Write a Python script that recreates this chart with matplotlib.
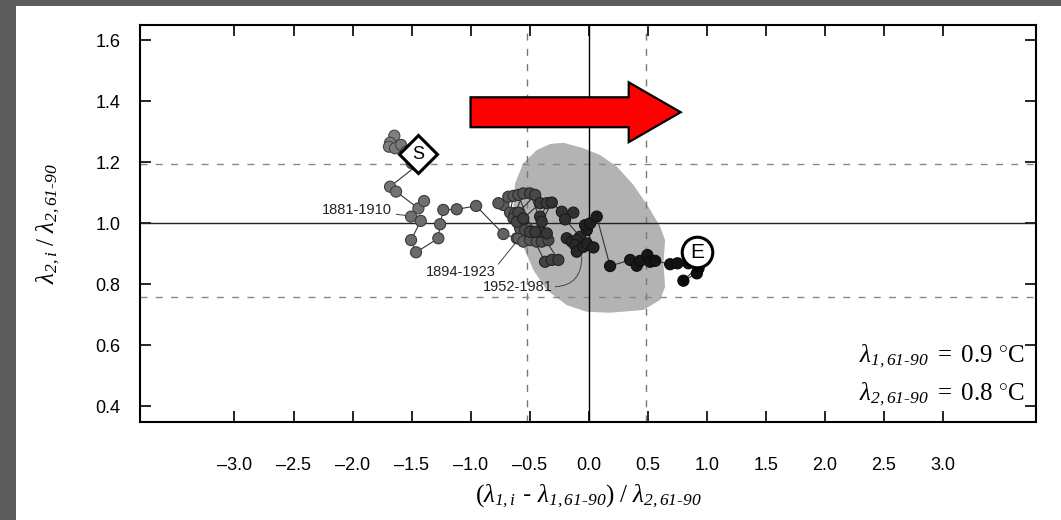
import numpy as np
import matplotlib.pyplot as plt
from matplotlib.patches import Polygon, Rectangle

plt.rcParams['font.family'] = ['Liberation Sans', 'DejaVu Sans']
plt.rcParams['mathtext.fontset'] = 'custom'
plt.rcParams['mathtext.rm'] = 'Liberation Serif'
plt.rcParams['mathtext.it'] = 'Liberation Serif:italic'
plt.rcParams['mathtext.bf'] = 'Liberation Serif:bold'
# italic digits for the subscripts
plt.rcParams['mathtext.sf'] = 'Liberation Serif:italic'

# trajectory of the two ratios, start (S) to end (E)
traj_x = [-1.646, -1.682, -1.691, -1.640, -1.589, -1.547, -1.498, -1.456,
          -1.682, -1.631, -1.442, -1.394, -1.504, -1.422, -1.504, -1.462,
          -1.273, -1.258, -1.231, -1.117, -0.953, -0.722, -0.608,
          -0.595, -0.553, -0.722, -0.764, -0.680, -0.637, -0.665, -0.581,
          -0.496, -0.439, -0.595, -0.553, -0.623, -0.637, -0.538, -0.397,
          -0.341, -0.496, -0.453, -0.595, -0.608, -0.496, -0.369, -0.312,
          -0.256, -0.411, -0.553, -0.411, -0.354, -0.453, -0.354, -0.411,
          -0.397, -0.312, -0.227, -0.129, -0.199,
          -0.072, -0.185, -0.142, -0.100, -0.114, -0.100, -0.044, -0.015,
          0.041, -0.015, -0.030, 0.013, 0.069, 0.182, 0.352, 0.408, 0.436,
          0.498, 0.521, 0.564, 0.691, 0.753, 0.846, 0.931, 0.917, 0.803,
          0.931]
traj_y = [1.287, 1.264, 1.251, 1.246, 1.257, 1.235, 1.197, 1.189,
          1.120, 1.104, 1.049, 1.073, 1.022, 1.008, 0.945, 0.905,
          0.951, 0.997, 1.044, 1.046, 1.057, 0.965, 0.951,
          0.951, 0.940, 1.060, 1.066, 1.087, 1.090, 1.035, 0.984,
          0.945, 0.940, 1.093, 1.098, 1.033, 1.016, 0.978, 0.940,
          0.945, 1.098, 1.093, 1.035, 1.005, 0.972, 0.874, 0.880,
          0.880, 0.972, 1.016, 1.066, 1.066, 0.972, 0.967, 1.022,
          1.005, 1.068, 1.038, 1.035, 1.013,
          0.956, 0.951, 0.940, 0.945, 0.929, 0.907, 0.923, 0.934,
          0.921, 0.978, 0.994, 1.000, 1.022, 0.860, 0.880, 0.861, 0.877,
          0.896, 0.874, 0.877, 0.866, 0.869, 0.869, 0.852, 0.836, 0.812,
          0.860]

# grey envelope
blob_x = [-0.214, -0.044, 0.097, 0.239, 0.380, 0.507, 0.606, 0.648, 0.634,
          0.648, 0.606, 0.464, 0.182, -0.015, -0.185, -0.354, -0.468,
          -0.553, -0.608, -0.637, -0.623, -0.553, -0.439, -0.326]
blob_y = [1.264, 1.246, 1.224, 1.186, 1.126, 1.054, 0.989, 0.945, 0.869,
          0.792, 0.749, 0.716, 0.707, 0.710, 0.732, 0.781, 0.847, 0.923,
          0.989, 1.054, 1.131, 1.197, 1.240, 1.260]

dash_x = [-0.52, 0.49]
dash_y = [1.196, 0.758]

start_pt = (-1.445, 1.227)
end_pt = (0.917, 0.905)

x_ticks = np.arange(-3.0, 3.01, 0.5)
y_ticks = [0.4, 0.6, 0.8, 1.0, 1.2, 1.4, 1.6]

SUB1 = r'\mathsf{1,61\text{-}90}'
SUB2 = r'\mathsf{2,61\text{-}90}'

fig = plt.figure(figsize=(10.61, 5.20), dpi=100)
fig.patch.set_facecolor('#5c5c5c')
fig.patches.append(Rectangle((16 / 1061, 0), 1, 1 - 6 / 520, transform=fig.transFigure,
                             facecolor='white', edgecolor='none', zorder=-10))
ax = fig.add_axes([0.132, 0.1885, 0.8444, 0.7635])

ax.fill(blob_x, blob_y, color='#b3b3b3', lw=0, zorder=1)
for xv in dash_x:
    ax.axvline(xv, color='#777777', lw=1.0, ls=(0, (5, 6)), zorder=2)
for yv in dash_y:
    ax.axhline(yv, color='#888888', lw=1.0, ls=(0, (5, 6)), zorder=2)
ax.axvline(0, color='black', lw=1.0, zorder=2)
ax.axhline(1.0, color='#222222', lw=1.0, zorder=2)

# red arrow
tail, base, tip = -1.0, 0.34, 0.78
yc, body, head = 1.364, 0.049, 0.098
ax.add_patch(Polygon([(tail, yc - body), (base, yc - body), (base, yc - head), (tip, yc),
                      (base, yc + head), (base, yc + body), (tail, yc + body)],
                     closed=True, facecolor='#ff0000', edgecolor='black', lw=1.6, zorder=5))

ax.plot(traj_x, traj_y, color='#333333', lw=0.8, zorder=3)
n = len(traj_x)
shade = np.linspace(0.5, 0.04, n)
cols = [(s, s, s) for s in shade]
edges = [(s * 0.55, s * 0.55, s * 0.55) for s in shade]
ax.scatter(traj_x, traj_y, s=64, c=cols, edgecolors=edges, linewidths=0.8, zorder=4)

ax.plot(*start_pt, marker='D', ms=19, mfc='white', mec='black', mew=2.2, zorder=6)
ax.text(*start_pt, 'S', ha='center', va='center', fontsize=13, zorder=7)
ax.plot(*end_pt, marker='o', ms=22, mfc='white', mec='black', mew=2.2, zorder=6)
ax.text(*end_pt, 'E', ha='center', va='center', fontsize=15, zorder=7)

ax.annotate('1881-1910', xy=(-1.53, 1.025), xytext=(-1.665, 1.044), ha='right', va='center',
            fontsize=10.5, color='#222222',
            arrowprops=dict(arrowstyle='-', color='#444444', lw=0.7, shrinkA=1, shrinkB=0))
ax.annotate('1894-1923', xy=(-0.623, 0.934), xytext=(-1.085, 0.841), ha='center', va='center',
            fontsize=10.5, color='#222222',
            arrowprops=dict(arrowstyle='-', color='#444444', lw=0.7, shrinkA=0, shrinkB=0,
                            relpos=(1.0, 0.8)))
ax.annotate('1952-1981', xy=(-0.058, 0.890), xytext=(-0.602, 0.792), ha='center', va='center',
            fontsize=10.5, color='#222222',
            arrowprops=dict(arrowstyle='-', color='#444444', lw=0.7, shrinkA=0, shrinkB=0,
                            relpos=(1.0, 0.5), connectionstyle='angle3,angleA=0,angleB=90'))

ax.text(0.988, 0.165, r'$\lambda_{%s}\ =\ \mathrm{0.9\ {}^{\circ}C}$' % SUB1,
        transform=ax.transAxes, ha='right', va='center', fontsize=18)
ax.text(0.988, 0.07, r'$\lambda_{%s}\ =\ \mathrm{0.8\ {}^{\circ}C}$' % SUB2,
        transform=ax.transAxes, ha='right', va='center', fontsize=18)

ax.set_xlim(-3.80, 3.79)
ax.set_ylim(0.349, 1.650)
ax.set_xticks(x_ticks)
ax.set_xticklabels([f'{v:.1f}'.replace('-', '\u2013') for v in x_ticks])
ax.set_yticks(y_ticks)
ax.set_yticklabels([f'{v:.1f}' for v in y_ticks])
ax.tick_params(direction='in', length=8, width=1.2, top=True, right=True, labelsize=13)
ax.tick_params(axis='x', pad=25)
ax.tick_params(axis='y', pad=14)
for sp in ax.spines.values():
    sp.set_linewidth(1.5)

ax.set_xlabel(r'$(\lambda_{\mathsf{1,i}}$ - $\lambda_{%s})\ /\ \lambda_{%s}$' % (SUB1, SUB2),
              fontsize=18, labelpad=6)
ax.set_ylabel(r'$\lambda_{\mathsf{2,i}}\ /\ \lambda_{%s}$' % SUB2, fontsize=18, labelpad=24)

fig.savefig('out.png', dpi=100, facecolor=fig.get_facecolor())
